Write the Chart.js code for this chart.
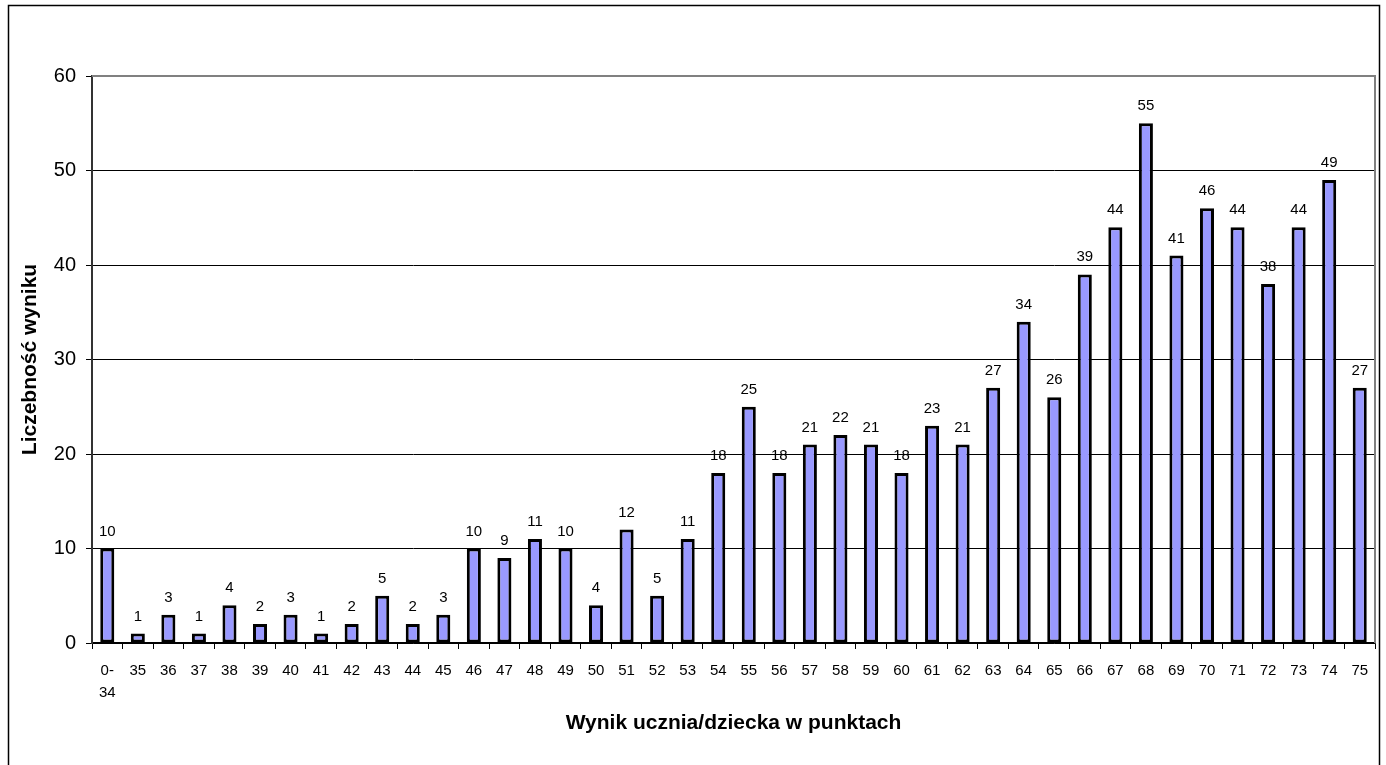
<!DOCTYPE html>
<html>
<head>
<meta charset="utf-8">
<script src="https://cdn.jsdelivr.net/npm/chart.js@4"></script>
<style>
  html, body { margin: 0; padding: 0; background: #fff; }
  #wrap { width: 1386px; height: 765px; position: relative; }
</style>
</head>
<body>
<div id="wrap"><canvas id="chart" width="1386" height="765"></canvas></div>
<script>
// Chart data
const categories = [['0-', '34'], '35', '36', '37', '38', '39', '40', '41', '42', '43', '44', '45',
  '46', '47', '48', '49', '50', '51', '52', '53', '54', '55', '56', '57', '58', '59', '60',
  '61', '62', '63', '64', '65', '66', '67', '68', '69', '70', '71', '72', '73', '74', '75'];
const counts = [10, 1, 3, 1, 4, 2, 3, 1, 2, 5, 2, 3,
  10, 9, 11, 10, 4, 12, 5, 11, 18, 25, 18, 21, 22, 21, 18,
  23, 21, 27, 34, 26, 39, 44, 55, 41, 46, 44, 38, 44, 49, 27];
const yTicks = [0, 10, 20, 30, 40, 50, 60];
const xTitle = 'Wynik ucznia/dziecka w punktach';
const yTitle = 'Liczebność wyniku';

const FONT = '"Liberation Sans", Arial, sans-serif';

// frame, plot border and value labels
const extras = {
  id: 'extras',
  beforeDraw(chart) {
    const ctx = chart.ctx;
    ctx.save();
    ctx.fillStyle = '#fff';
    ctx.fillRect(0, 0, chart.width, chart.height);
    ctx.restore();
  },
  afterDatasetsDraw(chart) {
    const ctx = chart.ctx;
    const a = chart.chartArea;
    ctx.save();
    // plot area top/right border
    ctx.strokeStyle = '#808080';
    ctx.lineWidth = 2;
    ctx.beginPath();
    ctx.moveTo(a.left, a.top);
    ctx.lineTo(a.right, a.top);
    ctx.lineTo(a.right, a.bottom);
    ctx.stroke();
    // value labels
    ctx.fillStyle = '#000';
    ctx.font = '15px ' + FONT;
    ctx.textAlign = 'center';
    ctx.textBaseline = 'alphabetic';
    chart.getDatasetMeta(0).data.forEach(function(bar, i) {
      ctx.fillText(String(counts[i]), bar.x, bar.y - 13);
    });
    // outer frame
    ctx.strokeStyle = '#000';
    ctx.lineWidth = 1.5;
    ctx.strokeRect(8.5, 5.5, 1371, 770);
    ctx.restore();
  }
};

const ctx = document.getElementById('chart').getContext('2d');
new Chart(ctx, {
  type: 'bar',
  data: {
    labels: categories,
    datasets: [{
      data: counts,
      backgroundColor: '#9999FF',
      borderColor: '#000',
      borderWidth: 3,
      borderSkipped: false,
      barPercentage: 0.46,
      categoryPercentage: 1
    }]
  },
  options: {
    responsive: false,
    devicePixelRatio: 1,
    animation: false,
    layout: { padding: { left: 0, top: 76, right: 11, bottom: 0 } },
    plugins: {
      legend: { display: false },
      tooltip: { enabled: false }
    },
    scales: {
      x: {
        offset: true,
        grid: {
          offset: true,
          drawOnChartArea: false,
          tickLength: 6,
          tickColor: '#000',
          lineWidth: 1
        },
        border: { color: '#000', width: 1.5 },
        ticks: {
          color: '#000',
          font: { family: FONT, size: 15, lineHeight: 1.45 },
          autoSkip: false,
          maxRotation: 0,
          minRotation: 0,
          padding: 11
        },
        title: {
          display: true,
          text: xTitle,
          color: '#000',
          font: { family: FONT, size: 21, weight: 'bold' },
          padding: { top: 0, bottom: 29 }
        },
        afterFit(scale) { scale.height = 122; }
      },
      y: {
        min: 0,
        max: 60,
        afterBuildTicks(scale) {
          scale.ticks = yTicks.map(function(v) { return { value: v }; });
        },
        grid: {
          color: '#000',
          lineWidth: 1,
          tickLength: 6,
          tickColor: '#000'
        },
        border: { color: '#333', width: 2 },
        ticks: {
          color: '#000',
          font: { family: FONT, size: 20 },
          padding: 10
        },
        title: {
          display: true,
          text: yTitle,
          color: '#000',
          font: { family: FONT, size: 21, weight: 'bold' },
          padding: { top: 18, bottom: 0 }
        },
        afterFit(scale) { scale.width = 92; }
      }
    }
  },
  plugins: [extras]
});
</script>
</body>
</html>
